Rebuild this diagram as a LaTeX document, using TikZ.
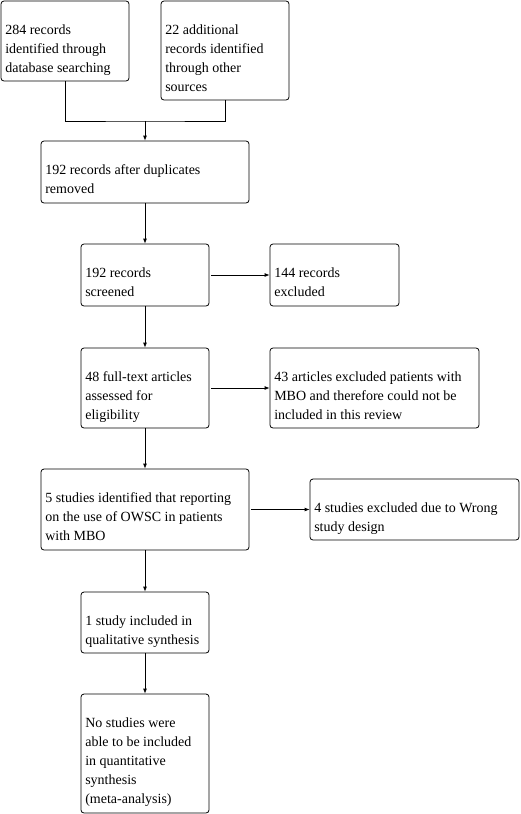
\documentclass[tikz,border=0pt]{standalone}
\usepackage{fontspec}
\setmainfont{Liberation Serif}
\usetikzlibrary{arrows.meta}
\begin{document}
\begin{tikzpicture}[x=1pt,y=-1pt,
  box/.style={draw, line width=0.8pt, rounded corners=3pt, inner sep=0pt, minimum width=#1},
  txt/.style={anchor=north west, inner sep=0pt, align=left, font=\fontsize{14}{19}\selectfont},
  conn/.style={line width=0.8pt},
  arr/.style={line width=0.8pt, -{Latex[length=5pt,width=4pt]}}]
\useasboundingbox (0,0) rectangle (521,814);
% boxes
\node[box=128pt, minimum height=80pt] (A) at (65,41) {};
\node[box=128pt, minimum height=99pt] (B) at (225,50.5) {};
\node[box=208pt, minimum height=62pt] (C) at (145,172) {};
\node[box=128pt, minimum height=62pt] (D) at (145,275) {};
\node[box=129pt, minimum height=62pt] (E) at (334.5,275) {};
\node[box=128pt, minimum height=80pt] (F) at (145,388) {};
\node[box=209pt, minimum height=80pt] (G) at (374.5,388) {};
\node[box=208pt, minimum height=81pt] (H) at (145,509.5) {};
\node[box=209pt, minimum height=61pt] (I) at (414.5,509.5) {};
\node[box=128pt, minimum height=61pt] (J) at (145,622.5) {};
\node[box=128pt, minimum height=119pt] (K) at (145,753.5) {};
% texts
\node[txt] (tA) at ([xshift=4.5pt,yshift=-20.7pt]A.north west) {\strut 284 records\\identified through\\database searching};
\node[txt] (tB) at ([xshift=4.5pt,yshift=-20.7pt]B.north west) {\strut 22 additional\\records identified\\through other\\sources};
\node[txt] (tC) at ([xshift=4.5pt,yshift=-20.7pt]C.north west) {\strut 192 records after duplicates\\removed};
\node[txt] (tD) at ([xshift=4.5pt,yshift=-20.7pt]D.north west) {\strut 192 records\\screened};
\node[txt] (tE) at ([xshift=4.5pt,yshift=-20.7pt]E.north west) {\strut 144 records\\excluded};
\node[txt] (tF) at ([xshift=4.5pt,yshift=-20.7pt]F.north west) {\strut 48 full-text articles\\assessed for\\eligibility};
\node[txt] (tG) at ([xshift=4.5pt,yshift=-20.7pt]G.north west) {\strut 43 articles excluded patients with\\MBO and therefore could not be\\included in this review};
\node[txt] (tH) at ([xshift=4.5pt,yshift=-20.7pt]H.north west) {\strut 5 studies identified that reporting\\on the use of OWSC in patients\\with MBO};
\node[txt] (tI) at ([xshift=4.5pt,yshift=-20.7pt]I.north west) {\strut 4 studies excluded due to Wrong\\study design};
\node[txt] (tJ) at ([xshift=4.5pt,yshift=-20.7pt]J.north west) {\strut 1 study included in\\qualitative synthesis};
\node[txt] (tK) at ([xshift=4.5pt,yshift=-20.7pt]K.north west) {\strut No studies were\\able to be included\\in quantitative\\synthesis\\(meta-analysis)};
% connectors
\coordinate (m) at (145,121);
\draw[conn] (A.south) |- (m) -| (B.south);
\draw[arr] (m) -- (C.north);
\draw[arr] (C.south) -- (D.north);
\draw[arr] ([xshift=2pt]D.east) -- (E.west);
\draw[arr] (D.south) -- (F.north);
\draw[arr] ([xshift=2pt]F.east) -- (G.west);
\draw[arr] (F.south) -- (H.north);
\draw[arr] ([xshift=2pt]H.east) -- (I.west);
\draw[arr] (H.south) -- (J.north);
\draw[arr] (J.south) -- (K.north);
\end{tikzpicture}
\end{document}
